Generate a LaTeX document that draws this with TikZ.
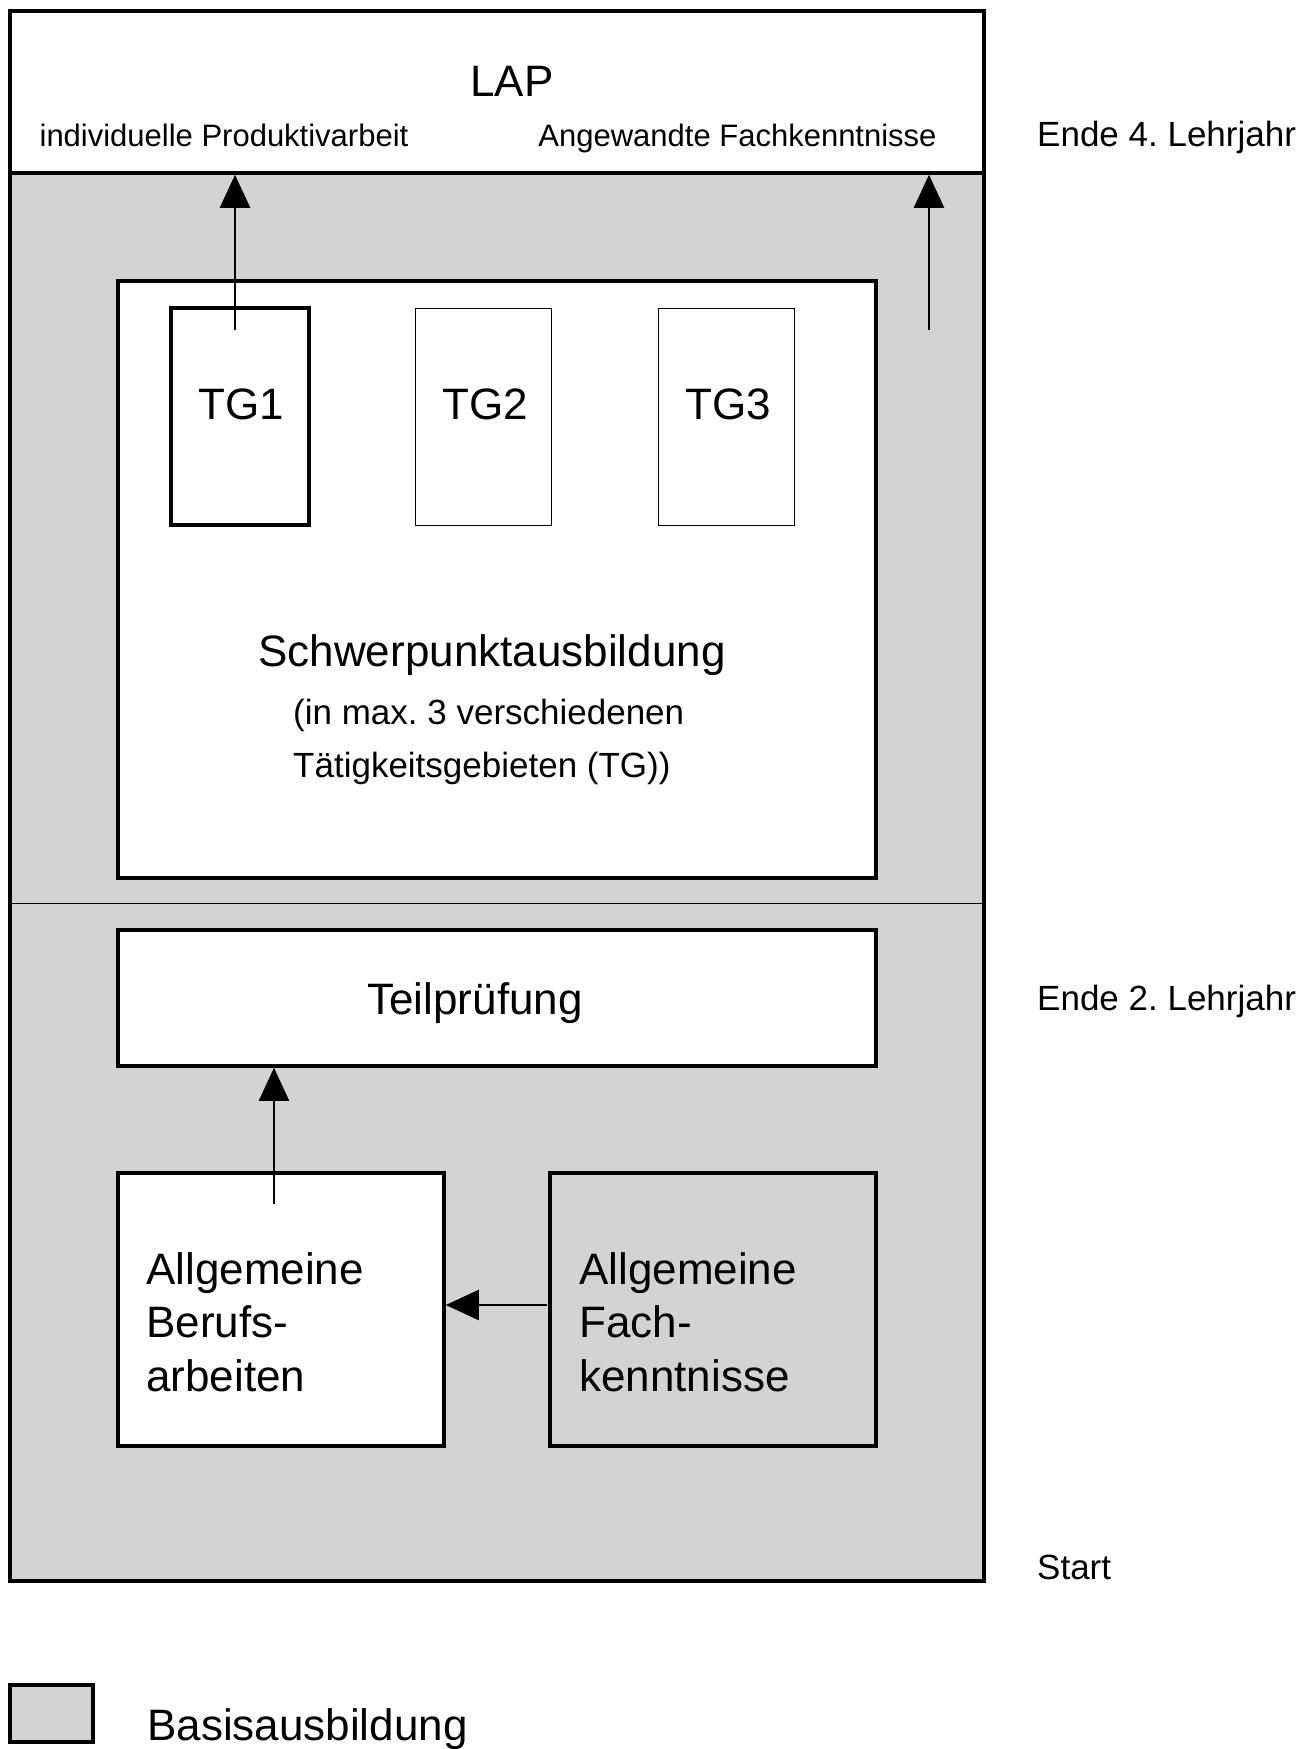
\documentclass[tikz,border=0pt]{standalone}
\usepackage{fontspec}
\setmainfont{Liberation Sans}
\usetikzlibrary{arrows.meta}
\definecolor{basisgrey}{RGB}{211,211,211}
\frenchspacing
\tikzset{
  box/.style={draw, line width=3.5pt, inner sep=0pt, fill=white},
  thinbox/.style={draw, line width=1pt, inner sep=0pt, fill=white},
  txt/.style={inner sep=0pt, anchor=base},
  txtl/.style={inner sep=0pt, anchor=base west},
  big/.style={font=\fontsize{44}{53}\selectfont},
  mid/.style={font=\fontsize{35}{42}\selectfont},
  small/.style={font=\fontsize{31}{37}\selectfont},
  flow/.style={line width=2.2pt, -{Triangle[length=33pt,width=30pt]}},
}
\begin{document}
\begin{tikzpicture}[x=1pt,y=-1pt]
\path[use as bounding box] (0,0) rectangle (1314,1749);

% Basisausbildung frame and final exam box
\node[box, fill=basisgrey, minimum width=974pt, minimum height=1408pt] (basis) at (497,877) {};
\node[box, minimum width=974pt, minimum height=162pt] (lap) at (497,92) {};
\draw[line width=1pt] (basis.west |- 0,903) -- (basis.east |- 0,903);

\node[txt, big] (laptitle) at (512,96) {LAP};
\node[txt, small] (lapleft) at (224,146) {individuelle Produktivarbeit};
\node[txt, small] (lapright) at (737.5,146) {Angewandte Fachkenntnisse};

% time line labels
\node[txtl, mid] (end4) at (1037,146) {Ende 4. Lehrjahr};
\node[txtl, mid] (end2) at (1037,1010.5) {Ende 2. Lehrjahr};
\node[txtl, mid] (start) at (1037,1579) {Start};

% Schwerpunktausbildung
\node[box, minimum width=758pt, minimum height=597pt] (schwer) at (497,579.5) {};
\node[box, minimum width=138pt, minimum height=217pt] (tg1) at (240,416.5) {};
\node[thinbox, minimum width=136pt, minimum height=217pt] (tg2) at (483,416.5) {};
\node[thinbox, minimum width=136pt, minimum height=217pt] (tg3) at (726,416.5) {};
\node[txt, big] (tg1label) at (241,419) {TG1};
\node[txt, big] (tg2label) at (485,419) {TG2};
\node[txt, big] (tg3label) at (728,419) {TG3};
\node[txt, big] (swtitle) at (492,666) {Schwerpunktausbildung};
\node[txtl, mid] (swsub1) at (293,724) {(in max. 3 verschiedenen};
\node[txtl, mid] (swsub2) at (293,777.5) {Tätigkeitsgebieten (TG))};

% Teilpruefung and basic training
\node[box, minimum width=758pt, minimum height=136pt] (teil) at (497,998) {};
\node[txt, big] (teillabel) at (475,1014) {Teilprüfung};

\node[box, minimum width=326pt, minimum height=273pt] (aba) at (281,1309.5) {};
\node[box, fill=basisgrey, minimum width=326pt, minimum height=273pt] (afk) at (713,1309.5) {};
\node[txtl, big] (aba1) at (146,1284) {Allgemeine};
\node[txtl, big] (aba2) at (146,1337.5) {Berufs-};
\node[txtl, big] (aba3) at (146,1391) {arbeiten};
\node[txtl, big] (afk1) at (579,1284) {Allgemeine};
\node[txtl, big] (afk2) at (579,1337.5) {Fach-};
\node[txtl, big] (afk3) at (579,1391) {kenntnisse};

% connectors
\coordinate (tgsrc) at (235,330);
\coordinate (afsrc) at (929,330);
\coordinate (abasrc) at (274,1204);
\coordinate (afksrc) at (547,1305);
\draw[flow] (tgsrc) -- (tgsrc |- lap.south);
\draw[flow] (afsrc) -- (afsrc |- lap.south);
\draw[flow] (abasrc) -- (abasrc |- teil.south);
\draw[flow] (afksrc) -- (afksrc -| aba.east);

% legend
\node[box, fill=basisgrey, minimum width=83pt, minimum height=57pt] (legendkey) at (51.5,1713.5) {};
\node[txtl, big] (legendtext) at (147,1740) {Basisausbildung};
\end{tikzpicture}
\end{document}
